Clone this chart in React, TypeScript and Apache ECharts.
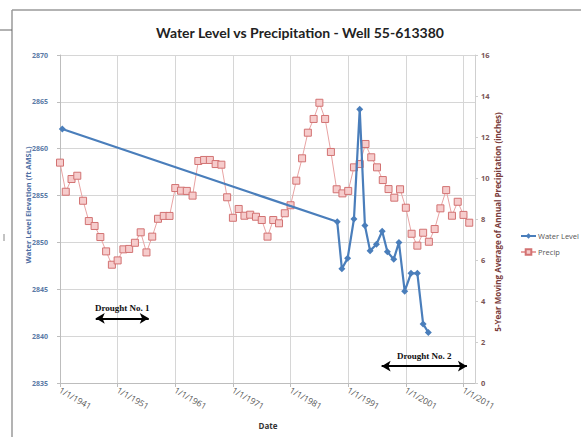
import React, { useEffect, useRef } from "react";
import * as echarts from "echarts";

// ---- Data ----
const waterYears = [1941.4, 1989.1, 1989.9, 1990.9, 1992.0, 1993.0, 1993.9, 1994.8, 1995.9, 1996.9, 1997.8, 1998.9, 1999.8, 2000.8, 2001.9, 2003.0, 2004.0, 2004.9];
const waterLevels = [2862.1, 2852.2, 2847.2, 2848.3, 2852.5, 2864.2, 2851.8, 2849.1, 2849.8, 2851.2, 2849.0, 2848.2, 2850.0, 2844.8, 2846.7, 2846.7, 2841.3, 2840.4];

const precipYears = [
  1941, 1942, 1943, 1944, 1945, 1946, 1947, 1948, 1949, 1950,
  1951, 1952, 1953, 1954, 1955, 1956, 1957, 1958, 1959, 1960,
  1961, 1962, 1963, 1964, 1965, 1966, 1967, 1968, 1969, 1970,
  1971, 1972, 1973, 1974, 1975, 1976, 1977, 1978, 1979, 1980,
  1981, 1982, 1983, 1984, 1985, 1986, 1987, 1988, 1989, 1990,
  1991, 1992, 1993, 1994, 1995, 1996, 1997, 1998, 1999, 2000,
  2001, 2002, 2003, 2004, 2005, 2006, 2007, 2008, 2009, 2010,
  2011, 2012,
];
const precipValues = [
  10.75, 9.33, 9.95, 10.11, 8.89, 7.90, 7.66, 7.12, 6.42, 5.77,
  5.98, 6.52, 6.54, 6.84, 7.35, 6.37, 7.14, 8.01, 8.15, 8.15,
  9.51, 9.38, 9.37, 9.14, 10.83, 10.88, 10.88, 10.68, 10.65, 9.06,
  8.06, 8.49, 8.16, 8.21, 8.11, 7.95, 7.14, 7.95, 7.79, 8.28,
  8.67, 9.87, 10.96, 12.21, 12.88, 13.67, 12.88, 11.27, 9.45, 9.25,
  9.37, 10.52, 10.68, 11.66, 11.01, 10.52, 9.90, 9.46, 9.04, 9.45,
  8.55, 7.28, 6.70, 7.33, 6.89, 7.51, 8.52, 9.41, 8.16, 8.84,
  8.20, 7.82,
];

const xTickYears = [1941, 1951, 1961, 1971, 1981, 1991, 2001, 2011];

const droughtLabels = ["Drought No. 1", "Drought No. 2"];
const droughtStart = [1947.2, 1996.8];
const droughtEnd = [1956.4, 2011.6];
const droughtLevel = [2841.9, 2836.8];

const BASE_YEAR = 1941;

export default function App() {
  const ref = useRef<HTMLDivElement>(null);

  useEffect(() => {
    if (!ref.current) return;
    const chart = echarts.init(ref.current, undefined, { renderer: "svg" });

    const waterData = waterYears.map((y, i) => [y - BASE_YEAR, waterLevels[i]]);
    const precipData = precipYears.map((y, i) => [y - BASE_YEAR, precipValues[i]]);

    const droughtLines = droughtLabels.map((name, i) => [
      {
        coord: [droughtStart[i] - BASE_YEAR, droughtLevel[i]],
        name,
      },
      { coord: [droughtEnd[i] - BASE_YEAR, droughtLevel[i]] },
    ]);

    const option: any = {
      animation: false,
      backgroundColor: "#ffffff",
      grid: { left: 60, top: 55, width: 415, height: 328, show: false },
      legend: {
        data: ["Water Level", "Precip"],
        orient: "vertical",
        left: 515,
        top: 227,
        itemWidth: 15,
        itemHeight: 7,
        itemGap: 8,
        textStyle: { fontSize: 7.5, color: "#555", fontFamily: "Open Sans", padding: [0, 0, 0, -3] },
      },
      xAxis: {
        type: "value",
        min: 0,
        max: 72,
        interval: 10,
        axisLine: { show: true, lineStyle: { color: "#bdbdbd" } },
        axisTick: { show: true, length: 4, lineStyle: { color: "#bdbdbd" } },
        splitLine: { show: true, lineStyle: { color: "#d6d6d6" } },
        axisLabel: {
          rotate: -30,
          margin: 6,
          fontSize: 8.5,
          color: "#555",
          fontFamily: "Open Sans",
          showMaxLabel: false,
          formatter: (v: number) => {
            const yr = Math.round(v + BASE_YEAR);
            return xTickYears.indexOf(yr) >= 0 ? "1/1/" + yr : "";
          },
        },
      },
      yAxis: [
        {
          type: "value",
          min: 2835,
          max: 2870,
          interval: 5,
          position: "left",
          axisLine: { show: true, lineStyle: { color: "#bdbdbd" } },
          axisTick: { show: true, length: 3, lineStyle: { color: "#bdbdbd" } },
          splitLine: { show: true, lineStyle: { color: "#d6d6d6" } },
          axisLabel: {
            fontSize: 7,
            color: "#5b7aa6",
            margin: 12,
            fontFamily: "Open Sans",
            fontWeight: "bold",
            formatter: (v: number) => String(v),
          },
        },
        {
          type: "value",
          min: 0,
          max: 16,
          interval: 2,
          position: "right",
          axisLine: { show: true, lineStyle: { color: "#cfcfcf" } },
          axisTick: { show: true, length: 3, lineStyle: { color: "#cfcfcf" } },
          splitLine: { show: false },
          axisLabel: { fontSize: 7.5, color: "#7a5555", margin: 6, fontFamily: "Open Sans", fontWeight: "bold" },
        },
      ],
      series: [
        {
          name: "Precip",
          type: "line",
          yAxisIndex: 1,
          data: precipData,
          symbol: "rect",
          symbolSize: 7,
          lineStyle: { color: "#e8a3a3", width: 1 },
          itemStyle: { color: "#f6cccc", borderColor: "#d27272", borderWidth: 1 },
          z: 2,
        },
        {
          name: "Water Level",
          type: "line",
          yAxisIndex: 0,
          data: waterData,
          symbol: "diamond",
          symbolSize: 7,
          lineStyle: { color: "#4a7ebb", width: 2.2 },
          itemStyle: { color: "#4a7ebb" },
          z: 3,
          markLine: {
            silent: true,
            symbol: ["arrow", "arrow"],
            symbolSize: [8, 9],
            lineStyle: { color: "#000", width: 2, type: "solid" },
            label: {
              show: true,
              position: "middle",
              distance: 6,
              formatter: (p: any) => p.name,
              fontSize: 9,
              fontWeight: "bold",
              color: "#111",
              fontFamily: "Liberation Serif",
            },
            data: droughtLines,
          },
        },
      ],
      graphic: [
        { type: "line", shape: { x1: 12, y1: 10, x2: 581, y2: 10 }, style: { stroke: "#9a9a9a", lineWidth: 1.5 } },
        { type: "line", shape: { x1: 12, y1: 10, x2: 12, y2: 437 }, style: { stroke: "#9a9a9a", lineWidth: 1.5 } },
        { type: "line", shape: { x1: 0, y1: 30, x2: 12, y2: 30 }, style: { stroke: "#666", lineWidth: 1 } },
        { type: "line", shape: { x1: 4, y1: 234, x2: 4, y2: 241 }, style: { stroke: "#888", lineWidth: 1 } },
        {
          type: "text",
          x: 300,
          y: 32,
          style: {
            text: "Water Level vs Precipitation - Well 55-613380",
            fontSize: 14,
            fontWeight: "bold",
            fontFamily: "Lato",
            fill: "#222",
            align: "center",
            verticalAlign: "middle",
          },
        },
        {
          type: "text",
          x: 28,
          y: 205,
          rotation: Math.PI / 2,
          style: {
            text: "Water Level Elevation (ft AMSL)",
            fontSize: 7.5,
            fontWeight: "bold",
            fontFamily: "Open Sans",
            fill: "#4f6fa5",
            align: "center",
            verticalAlign: "middle",
          },
        },
        {
          type: "text",
          x: 497,
          y: 222,
          rotation: Math.PI / 2,
          style: {
            text: "5-Year Moving Average of Annual Precipitation (inches)",
            fontSize: 8,
            fontWeight: "bold",
            fontFamily: "Open Sans",
            fill: "#7a3c3c",
            align: "center",
            verticalAlign: "middle",
          },
        },
        {
          type: "text",
          x: 268,
          y: 425,
          style: {
            text: "Date",
            fontSize: 8,
            fontWeight: "bold",
            fontFamily: "Open Sans",
            fill: "#333",
            align: "center",
            verticalAlign: "middle",
          },
        },
      ],
    };

    chart.setOption(option);
    return () => chart.dispose();
  }, []);

  return (
    <div
      ref={ref}
      style={{ position: "fixed", left: 0, top: 0, width: 581, height: 437, background: "#fff" }}
    />
  );
}
